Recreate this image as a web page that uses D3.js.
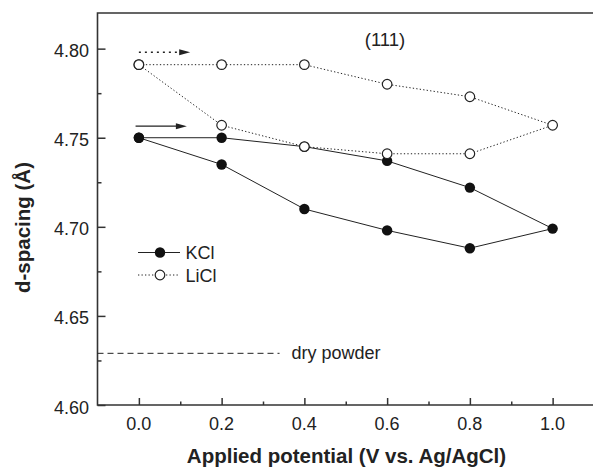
<!DOCTYPE html>
<html>
<head>
<meta charset="utf-8">
<script src="https://cdn.jsdelivr.net/npm/d3@7"></script>
<style>
  html, body { margin: 0; padding: 0; background: #fff; }
  svg { display: block; }
  text { font-family: "Liberation Sans", Arial, Helvetica, sans-serif; fill: #222; }
</style>
</head>
<body>
<svg id="chart" width="593" height="468"></svg>
<script>
// ---- data ----
const potentials = [0.0, 0.2, 0.4, 0.6, 0.8, 1.0, 0.8, 0.6, 0.4, 0.2, 0.0];
const kclSpacing = [4.750, 4.750, 4.745, 4.737, 4.722, 4.699, 4.688, 4.698, 4.710, 4.735, 4.750];
const liclSpacing = [4.791, 4.791, 4.791, 4.780, 4.773, 4.757, 4.741, 4.741, 4.745, 4.757, 4.791];
const seriesNames = ["KCl", "LiCl"];
const xTicks = [0.0, 0.2, 0.4, 0.6, 0.8, 1.0];
const xMinorTicks = [0.1, 0.3, 0.5, 0.7, 0.9];
const yTicks = [4.60, 4.65, 4.70, 4.75, 4.80];
const yMinorTicks = [4.625, 4.675, 4.725, 4.775];
const dryPowder = 4.629;
const dryPowderExtent = [-0.1, 0.34];
const liclArrow = [0.0, 0.124, 4.798];
const kclArrow = [-0.008, 0.116, 4.7565];
const planeLabel = "(111)";

// ---- layout ----
const svg = d3.select("#chart");
const pL = 97.5, pT = 13, pR = 594, pB = 405;
const x = d3.scaleLinear().domain([-0.1, 1.1]).range([pL, pR]);
const y = d3.scaleLinear().domain([4.60, 4.82]).range([pB, pT]);
const ink = "#222";

// frame: left, bottom, top
svg.append("path")
  .attr("d", `M${pR},${pT}H${pL}V${pB}H${pR}`)
  .attr("fill", "none").attr("stroke", "#333").attr("stroke-width", 1.6);

// axes via d3
const xAxis = svg.append("g").attr("transform", `translate(0,${pB})`)
  .call(d3.axisTop(x).tickValues(xTicks).tickSize(7).tickFormat(""));
const xAxisMinor = svg.append("g").attr("transform", `translate(0,${pB})`)
  .call(d3.axisTop(x).tickValues(xMinorTicks).tickSize(3.5).tickFormat(""));
const yAxis = svg.append("g").attr("transform", `translate(${pL},0)`)
  .call(d3.axisRight(y).tickValues(yTicks).tickSize(8).tickFormat(""));
const yAxisMinor = svg.append("g").attr("transform", `translate(${pL},0)`)
  .call(d3.axisRight(y).tickValues(yMinorTicks).tickSize(4).tickFormat(""));
[xAxis, xAxisMinor, yAxis, yAxisMinor].forEach(g => {
  g.select(".domain").remove();
  g.selectAll("line").attr("stroke", "#333").attr("stroke-width", 1.5);
});

// tick labels
svg.append("g").selectAll("text").data(xTicks).join("text")
  .attr("x", d => x(d)).attr("y", 430)
  .attr("text-anchor", "middle").attr("font-size", 18)
  .text(d => d3.format(".1f")(d));
svg.append("g").selectAll("text").data(yTicks).join("text")
  .attr("x", 89).attr("y", d => y(d) + 8.5)
  .attr("text-anchor", "end").attr("font-size", 18)
  .text(d => d3.format(".2f")(d));

// axis titles
svg.append("text").attr("x", 346.5).attr("y", 463)
  .attr("text-anchor", "middle").attr("font-size", 20.5).attr("font-weight", "bold")
  .text("Applied potential (V vs. Ag/AgCl)");
svg.append("text").attr("transform", "translate(30,227.5) rotate(-90)")
  .attr("text-anchor", "middle").attr("font-size", 20.5).attr("font-weight", "bold")
  .text("d-spacing (Å)");

// dry powder reference
svg.append("line")
  .attr("x1", x(dryPowderExtent[0])).attr("x2", x(dryPowderExtent[1]))
  .attr("y1", y(dryPowder)).attr("y2", y(dryPowder))
  .attr("stroke", ink).attr("stroke-width", 1).attr("stroke-dasharray", "6,4");
svg.append("text").attr("x", 291.5).attr("y", y(dryPowder) + 5.5)
  .attr("font-size", 18).text("dry powder");

// label
svg.append("text").attr("x", 385).attr("y", 46).attr("text-anchor", "middle")
  .attr("font-size", 18.5).text(planeLabel);

// series
const line = d3.line().x(d => x(d[0])).y(d => y(d[1]));
const kclPts = potentials.map((p, i) => [p, kclSpacing[i]]);
const liclPts = potentials.map((p, i) => [p, liclSpacing[i]]);

svg.append("path").attr("d", line(kclPts))
  .attr("fill", "none").attr("stroke", ink).attr("stroke-width", 1);
svg.append("g").selectAll("circle").data(kclPts).join("circle")
  .attr("cx", d => x(d[0])).attr("cy", d => y(d[1])).attr("r", 5.2)
  .attr("fill", "#111");

svg.append("path").attr("d", line(liclPts))
  .attr("fill", "none").attr("stroke", ink).attr("stroke-width", 1)
  .attr("stroke-dasharray", "1.3,2.2");
svg.append("g").selectAll("circle").data(liclPts).join("circle")
  .attr("cx", d => x(d[0])).attr("cy", d => y(d[1])).attr("r", 4.8)
  .attr("fill", "#fff").attr("stroke", ink).attr("stroke-width", 1.2);

// arrows
function arrow(a, dashed) {
  const x0 = x(a[0]), x1 = x(a[1]), yy = y(a[2]);
  svg.append("line").attr("x1", x0).attr("x2", x1 - 9).attr("y1", yy).attr("y2", yy)
    .attr("stroke", ink).attr("stroke-width", dashed ? 1.6 : 1.3)
    .attr("stroke-dasharray", dashed ? "2,4" : null);
  svg.append("path").attr("d", `M${x1},${yy}L${x1 - 11},${yy - 3}L${x1 - 11},${yy + 3}Z`)
    .attr("fill", ink);
}
arrow(liclArrow, true);
arrow(kclArrow, false);

// legend
const legend = svg.append("g");
const legY = [252.5, 275];
seriesNames.forEach((name, i) => {
  const yy = legY[i];
  legend.append("line").attr("x1", 138).attr("x2", 180).attr("y1", yy).attr("y2", yy)
    .attr("stroke", ink).attr("stroke-width", 1)
    .attr("stroke-dasharray", i === 0 ? null : "1.3,2.2");
  if (i === 0) {
    legend.append("circle").attr("cx", 160).attr("cy", yy).attr("r", 5.2).attr("fill", "#111");
  } else {
    legend.append("circle").attr("cx", 160).attr("cy", yy).attr("r", 4.8)
      .attr("fill", "#fff").attr("stroke", ink).attr("stroke-width", 1.2);
  }
  legend.append("text").attr("x", 185.5).attr("y", yy + 6.5).attr("font-size", 18).text(name);
});
</script>
</body>
</html>
